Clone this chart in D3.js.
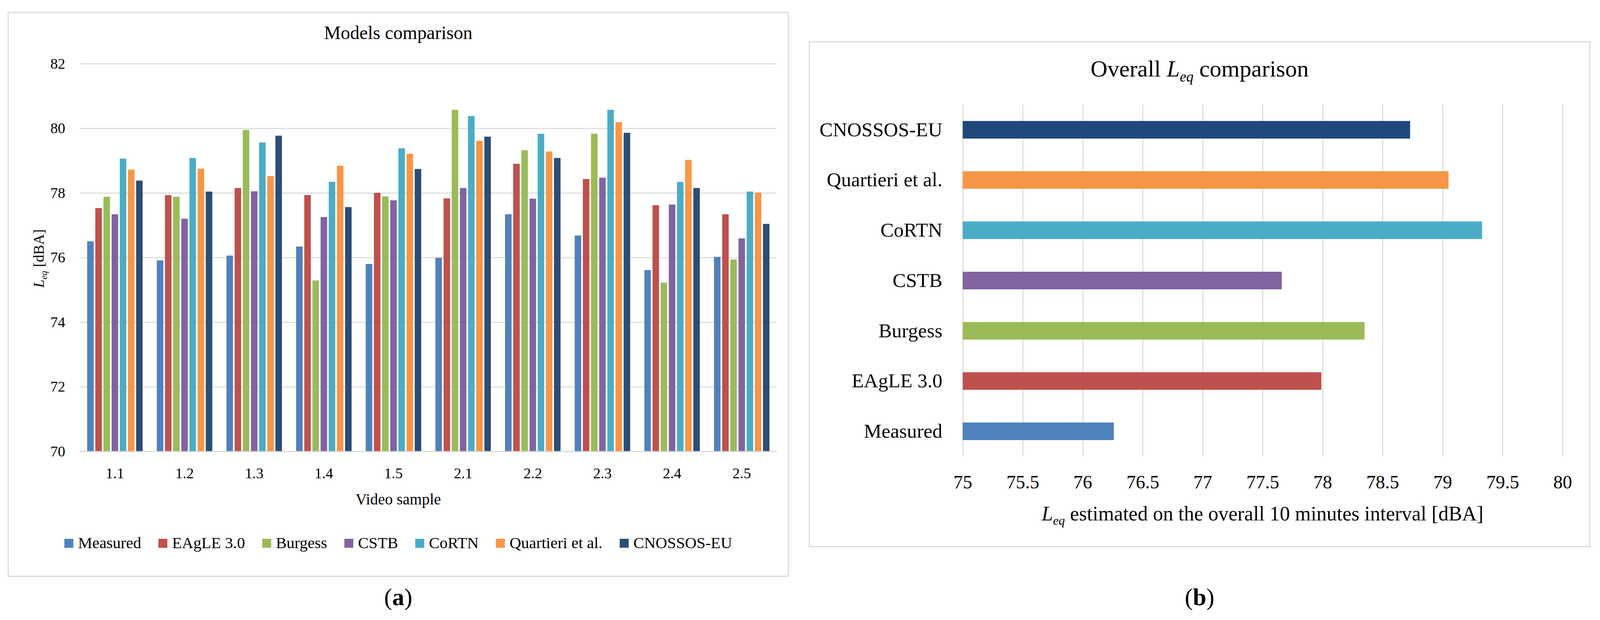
<!DOCTYPE html>
<html>
<head>
<meta charset="utf-8">
<script src="https://cdn.jsdelivr.net/npm/d3@7"></script>
<style>
  html, body { margin: 0; padding: 0; background: #fff; }
  svg { display: block; }
  text { font-family: "Liberation Serif", "DejaVu Serif", serif; fill: #000; }
</style>
</head>
<body>
<script>
const W = 4101;
const H = 1588;

// categories
const samples = ["1.1", "1.2", "1.3", "1.4", "1.5", "2.1", "2.2", "2.3", "2.4", "2.5"];
const models = ["Measured", "EAgLE 3.0", "Burgess", "CSTB", "CoRTN", "Quartieri et al.", "CNOSSOS-EU"];

// per-sample Leq [dBA], one array per model (panel a)
const measured  = [76.50, 75.91, 76.06, 76.34, 75.80, 75.99, 77.34, 76.68, 75.61, 76.02];
const eagle     = [77.53, 77.93, 78.15, 77.93, 78.00, 77.83, 78.90, 78.43, 77.62, 77.34];
const burgess   = [77.88, 77.88, 79.95, 75.29, 77.89, 80.57, 79.32, 79.83, 75.22, 75.94];
const cstb      = [77.34, 77.20, 78.05, 77.25, 77.77, 78.15, 77.82, 78.47, 77.64, 76.59];
const cortn     = [79.06, 79.08, 79.56, 78.34, 79.38, 80.38, 79.83, 80.57, 78.34, 78.04];
const quartieri = [78.72, 78.75, 78.52, 78.84, 79.21, 79.61, 79.28, 80.19, 79.02, 78.01];
const cnossos   = [78.38, 78.04, 79.77, 77.56, 78.74, 79.74, 79.08, 79.86, 78.15, 77.04];

// overall 10 minutes Leq, same order as models (panel b)
const overall = [76.26, 77.99, 78.35, 77.66, 79.33, 79.05, 78.73];

// tick labels
const leftTicks = [70, 72, 74, 76, 78, 80, 82];
const rightTicks = [75, 75.5, 76, 76.5, 77, 77.5, 78, 78.5, 79, 79.5, 80];

const seriesValues = [measured, eagle, burgess, cstb, cortn, quartieri, cnossos];

const COLORS_A = ["#4f81bd", "#c0504d", "#9bbb59", "#8064a2", "#4bacc6", "#f79646", "#2c4d75"];
const COLORS_B = ["#4f81bd", "#c0504d", "#9bbb59", "#8064a2", "#4bacc6", "#f79646", "#1f497d"];
const GRID = "#d9d9d9";

const svg = d3.select("body").append("svg")
  .attr("width", W)
  .attr("height", H)
  .attr("viewBox", [0, 0, W, H]);

// Leq with italic subscript, appended into a text node
function leq(text, size) {
  text.append("tspan").attr("font-style", "italic").text("L");
  text.append("tspan").attr("font-style", "italic")
    .attr("font-size", size * 0.62).attr("dy", size * 0.22).text("eq");
  return text.append("tspan").attr("dy", -size * 0.22);
}

drawModelsComparison();
drawOverall();

function drawModelsComparison() {
  const box = {x0: 21, y0: 32, x1: 2018, y1: 1476};
  const plot = {left: 205, right: 1988, top: 163, bottom: 1156};
  const cx = (box.x0 + box.x1) / 2;

  svg.append("rect")
    .attr("x", box.x0).attr("y", box.y0)
    .attr("width", box.x1 - box.x0).attr("height", box.y1 - box.y0)
    .attr("fill", "#fff").attr("stroke", GRID).attr("stroke-width", 3);

  svg.append("text")
    .attr("x", cx).attr("y", 100)
    .attr("text-anchor", "middle").attr("font-size", 48)
    .text("Models comparison");

  const x0 = d3.scaleBand().domain(samples).range([plot.left, plot.right]).padding(0);
  const groupWidth = 142;
  const x1 = d3.scaleBand().domain(models).range([0, groupWidth]).paddingInner(0.2);
  const y = d3.scaleLinear().domain([70, 82]).range([plot.bottom, plot.top]);

  const yAxis = svg.append("g")
    .attr("transform", `translate(${plot.left},0)`)
    .call(d3.axisLeft(y).tickValues(leftTicks).tickSize(-(plot.right - plot.left)).tickPadding(38));
  yAxis.select(".domain").remove();
  yAxis.selectAll(".tick line").attr("stroke", GRID).attr("stroke-width", 2.5);
  yAxis.selectAll(".tick text")
    .attr("font-family", "Liberation Serif").attr("font-size", 38).attr("fill", "#000");

  const groups = svg.append("g")
    .selectAll("g")
    .data(samples)
    .join("g")
    .attr("transform", (d) => `translate(${x0(d) + (x0.bandwidth() - groupWidth) / 2},0)`);

  groups.selectAll("rect")
    .data((d, i) => models.map((m, k) => ({model: m, k, value: seriesValues[k][i]})))
    .join("rect")
    .attr("x", (d) => x1(d.model))
    .attr("width", x1.bandwidth())
    .attr("y", (d) => y(d.value))
    .attr("height", (d) => y(70) - y(d.value))
    .attr("fill", (d) => COLORS_A[d.k]);

  const xAxis = svg.append("g")
    .attr("transform", `translate(0,${plot.bottom})`)
    .call(d3.axisBottom(x0).tickSize(0).tickPadding(42));
  xAxis.select(".domain").attr("stroke", GRID).attr("stroke-width", 2.5);
  xAxis.selectAll(".tick text")
    .attr("font-family", "Liberation Serif").attr("font-size", 38).attr("fill", "#000");

  svg.append("text")
    .attr("x", cx).attr("y", 1292)
    .attr("text-anchor", "middle").attr("font-size", 40)
    .text("Video sample");

  const yTitle = svg.append("text")
    .attr("transform", `translate(112,662) rotate(-90)`)
    .attr("text-anchor", "middle").attr("font-size", 38);
  leq(yTitle, 38).text(" [dBA]");

  // legend, centred in the panel
  const legend = svg.append("g");
  const items = legend.selectAll("g").data(models).join("g");
  items.append("rect")
    .attr("width", 23).attr("height", 23)
    .attr("y", 1380)
    .attr("fill", (d, i) => COLORS_A[i]);
  items.append("text")
    .attr("x", 35).attr("y", 1404)
    .attr("font-size", 41)
    .text((d) => d);
  let offset = 0;
  const gap = 44;
  items.each(function () {
    const w = 35 + d3.select(this).select("text").node().getComputedTextLength();
    d3.select(this).attr("transform", `translate(${offset},0)`);
    offset += w + gap;
  });
  const total = offset - gap;
  legend.attr("transform", `translate(${cx - total / 2},0)`);

  const tag = svg.append("text")
    .attr("x", cx).attr("y", 1550)
    .attr("text-anchor", "middle").attr("font-size", 62);
  tag.append("tspan").text("(");
  tag.append("tspan").attr("font-weight", "bold").text("a");
  tag.append("tspan").text(")");
}

function drawOverall() {
  const box = {x0: 2072, y0: 107, x1: 4070, y1: 1400};
  const plot = {left: 2464.5, right: 4000, top: 268, bottom: 1169};
  const cx = (box.x0 + box.x1) / 2;

  svg.append("rect")
    .attr("x", box.x0).attr("y", box.y0)
    .attr("width", box.x1 - box.x0).attr("height", box.y1 - box.y0)
    .attr("fill", "#fff").attr("stroke", GRID).attr("stroke-width", 3);

  const title = svg.append("text")
    .attr("x", cx).attr("y", 196)
    .attr("text-anchor", "middle").attr("font-size", 60);
  title.append("tspan").text("Overall ");
  leq(title, 60).text(" comparison");

  const x = d3.scaleLinear().domain([75, 80]).range([plot.left, plot.right]);
  const y = d3.scaleBand()
    .domain(models.slice().reverse())
    .range([plot.top, plot.bottom])
    .paddingInner(0.65)
    .paddingOuter(0.325);

  const xAxis = svg.append("g")
    .attr("transform", `translate(0,${plot.bottom})`)
    .call(d3.axisBottom(x).tickValues(rightTicks).tickFormat(d3.format("~g"))
      .tickSize(-(plot.bottom - plot.top)).tickPadding(48));
  xAxis.select(".domain").remove();
  xAxis.selectAll(".tick line").attr("stroke", GRID).attr("stroke-width", 2.5);
  xAxis.selectAll(".tick text")
    .attr("font-family", "Liberation Serif").attr("font-size", 48).attr("fill", "#000");

  svg.append("g")
    .selectAll("rect")
    .data(models)
    .join("rect")
    .attr("x", x(75))
    .attr("y", (d) => y(d))
    .attr("height", y.bandwidth())
    .attr("width", (d, i) => x(overall[i]) - x(75))
    .attr("fill", (d, i) => COLORS_B[i]);

  const yAxis = svg.append("g")
    .attr("transform", `translate(${plot.left},0)`)
    .call(d3.axisLeft(y).tickSize(0).tickPadding(52));
  yAxis.select(".domain").remove();
  yAxis.selectAll(".tick text")
    .attr("font-family", "Liberation Serif").attr("font-size", 51).attr("fill", "#000");

  const xTitle = svg.append("text")
    .attr("x", (plot.left + plot.right) / 2).attr("y", 1333)
    .attr("text-anchor", "middle").attr("font-size", 52);
  leq(xTitle, 52).text(" estimated on the overall 10 minutes interval [dBA]");

  const tag = svg.append("text")
    .attr("x", cx).attr("y", 1550)
    .attr("text-anchor", "middle").attr("font-size", 62);
  tag.append("tspan").text("(");
  tag.append("tspan").attr("font-weight", "bold").text("b");
  tag.append("tspan").text(")");
}
</script>
</body>
</html>
